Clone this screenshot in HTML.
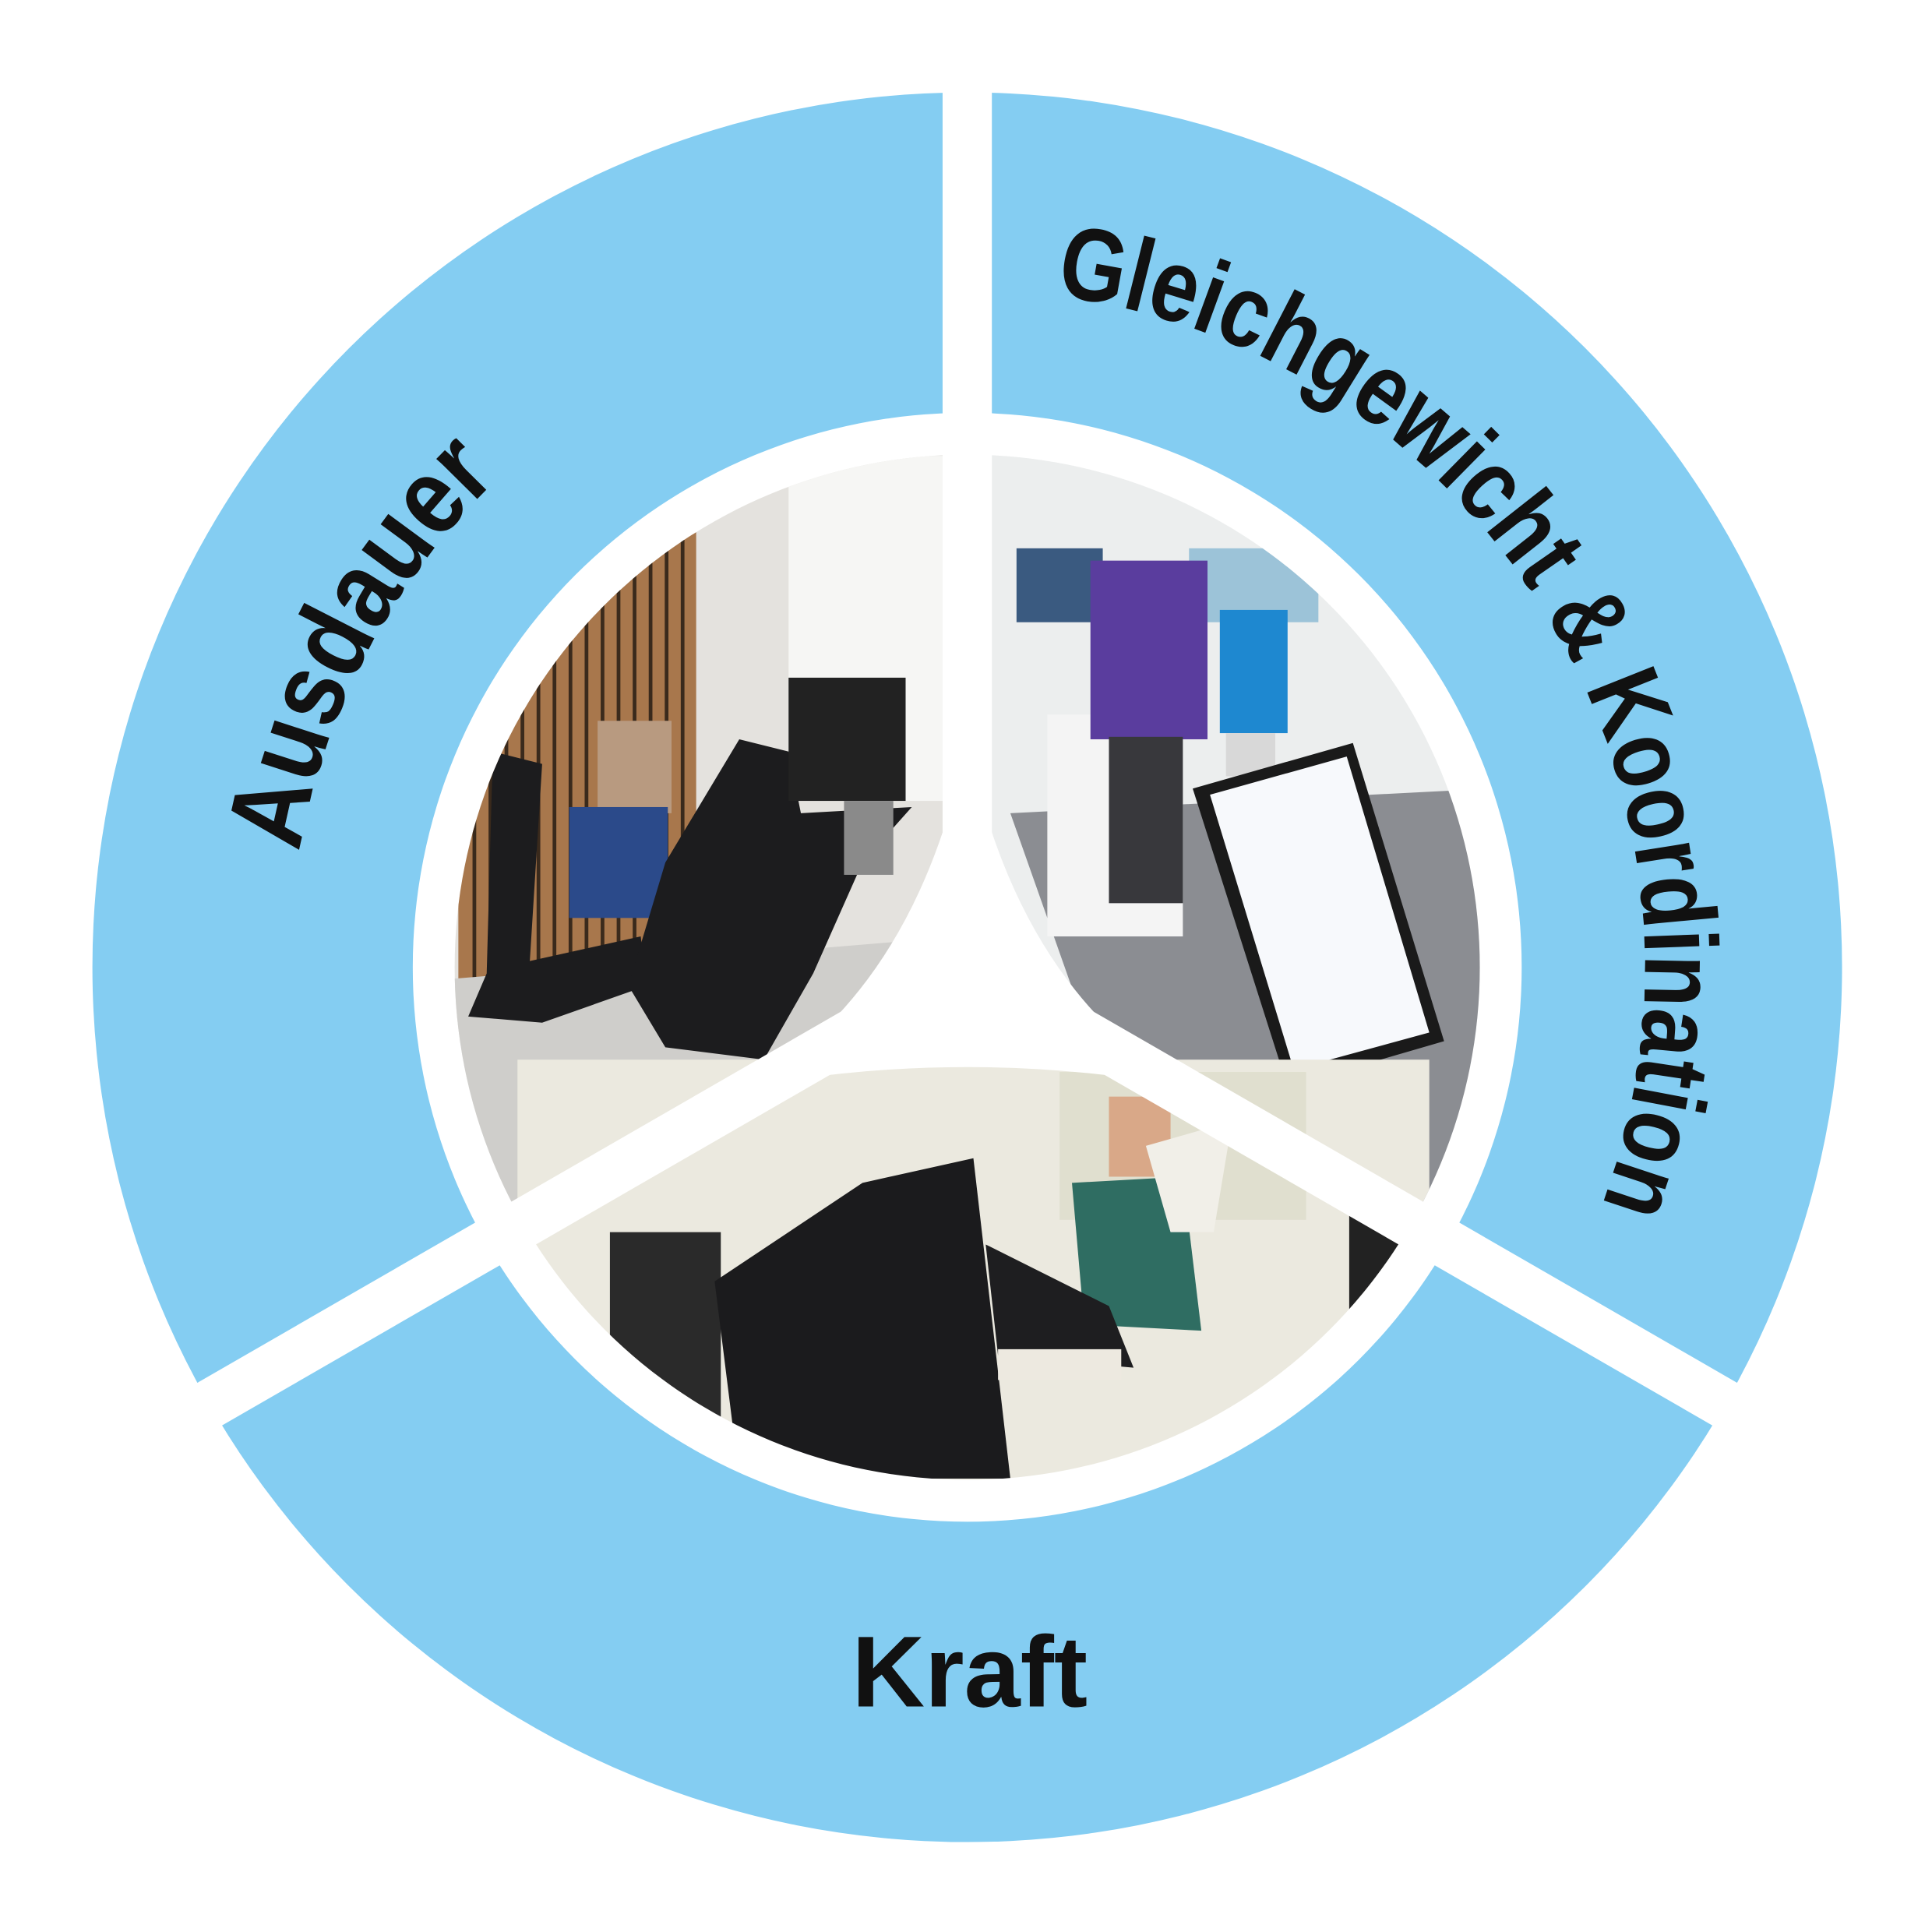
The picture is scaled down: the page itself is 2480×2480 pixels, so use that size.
<!DOCTYPE html>
<html><head><meta charset="utf-8"><style>html,body{margin:0;padding:0;background:#fff}svg{display:block}</style></head><body>
<svg width="2480" height="2480" viewBox="0 0 1568 1568" xmlns="http://www.w3.org/2000/svg">
<defs>
<clipPath id="pc"><circle cx="785" cy="785" r="416"/></clipPath>
<path id="arc" d="M785,1335 A550,550 0 0 1 785,235 A550,550 0 0 1 785,1335"/>
</defs>
<rect width="1568" height="1568" fill="#fff"/>
<circle cx="785" cy="785" r="710" fill="#84cdf2"/>
<circle cx="785" cy="785" r="450" fill="#fff"/>
<g clip-path="url(#pc)">
  <!-- left photo -->
  <rect x="360" y="360" width="430" height="640" fill="#e4e2de"/>
  <rect x="640" y="370" width="130" height="280" fill="#f6f6f4"/>
  <rect x="372" y="430" width="193" height="370" fill="#a8774c"/>
  <g stroke="#3a2a1c" stroke-width="3">
    <line x1="385" y1="430" x2="385" y2="800"/><line x1="398" y1="430" x2="398" y2="800"/><line x1="411" y1="430" x2="411" y2="800"/><line x1="424" y1="430" x2="424" y2="800"/><line x1="437" y1="430" x2="437" y2="800"/><line x1="450" y1="430" x2="450" y2="800"/><line x1="463" y1="430" x2="463" y2="800"/><line x1="476" y1="430" x2="476" y2="800"/><line x1="489" y1="430" x2="489" y2="800"/><line x1="502" y1="430" x2="502" y2="800"/><line x1="515" y1="430" x2="515" y2="800"/><line x1="528" y1="430" x2="528" y2="800"/><line x1="541" y1="430" x2="541" y2="800"/><line x1="554" y1="430" x2="554" y2="800"/>
  </g>
  <polygon points="360,795 780,760 780,1000 360,1000" fill="#cfcecb"/>
  <path d="M400,610 L440,620 L430,780 L520,760 L525,800 L440,830 L380,825 L395,790Z" fill="#1c1c1e"/>
  <rect x="485" y="585" width="60" height="75" fill="#b89a80"/>
  <rect x="462" y="655" width="80" height="90" fill="#2b4a8a"/>
  <path d="M540,700 L600,600 L640,610 L650,660 L740,655 L700,700 L660,790 L620,860 L540,850 L510,800Z" fill="#1c1c1e"/>
  <rect x="640" y="550" width="95" height="100" fill="#222"/>
  <rect x="685" y="650" width="40" height="60" fill="#8a8a8a"/>
  <!-- right photo -->
  <rect x="790" y="360" width="430" height="640" fill="#eceeee"/>
  <rect x="965" y="445" width="105" height="60" fill="#9cc3d8"/>
  <rect x="825" y="445" width="70" height="60" fill="#3a5a80"/>
  <polygon points="820,660 1210,640 1210,1000 940,1000" fill="#8b8d92"/>
  <rect x="850" y="580" width="110" height="180" fill="#f4f4f4"/>
  <rect x="885" y="455" width="95" height="145" fill="#5a3d9e"/>
  <rect x="900" y="598" width="60" height="135" fill="#38383c"/>
  <rect x="990" y="495" width="55" height="100" fill="#1e88d0"/>
  <rect x="995" y="595" width="40" height="35" fill="#d8d8d8"/>
  <rect x="1040" y="870" width="55" height="80" fill="#333"/>
  <polygon points="968,640 1098,603 1172,845 1045,882" fill="#1a1a1a"/>
  <polygon points="982,645 1093,614 1160,838 1050,868" fill="#f7f9fc"/>
  <!-- bottom photo -->
  <rect x="420" y="860" width="740" height="360" fill="#ebe9df"/>
  <rect x="860" y="870" width="200" height="120" fill="#e0dfcf"/>
  <rect x="495" y="1000" width="90" height="160" fill="#2a2a2a"/>
  <path d="M580,1040 L700,960 L790,940 L820,1200 L600,1200Z" fill="#1b1b1d"/>
  <rect x="900" y="890" width="50" height="65" fill="#d9a888"/>
  <path d="M870,960 L960,955 L975,1080 L880,1075Z" fill="#2f6d62"/>
  <path d="M800,1010 L900,1060 L920,1110 L810,1100Z" fill="#1e1e20"/>
  <rect x="810" y="1095" width="100" height="25" fill="#ede9e0"/>
  <path d="M930,930 L1000,910 L985,1000 L950,1000Z" fill="#f1efe8"/>
  <rect x="1095" y="985" width="40" height="100" fill="#222"/>
</g>
<!-- separators -->
<g stroke="#fff" stroke-width="40" stroke-linecap="butt">
  <line x1="785" y1="785" x2="785" y2="40"/>
  <line x1="785" y1="785" x2="140" y2="1157"/>
  <line x1="785" y1="785" x2="1430" y2="1157"/>
</g>
<path d="M785,600 Q745,800 608,882 Q785,850 962,882 Q825,800 785,600Z" fill="#fff"/>
<g font-family="'Liberation Sans',sans-serif" font-weight="bold" fill="#111">
  <g transform="rotate(-62 785 785)"><text font-size="88"><textPath href="#arc" startOffset="50%" text-anchor="middle" textLength="350" lengthAdjust="spacingAndGlyphs">Ausdauer</textPath></text></g>
  <g transform="rotate(59 785 785)"><text font-size="84"><textPath href="#arc" startOffset="50%" text-anchor="middle" textLength="990" lengthAdjust="spacingAndGlyphs">Gleichgewicht &amp; Koordination</textPath></text></g>
  <text x="787" y="1385" font-size="82" text-anchor="middle">Kraft</text>
</g>
</svg>
</body></html>
